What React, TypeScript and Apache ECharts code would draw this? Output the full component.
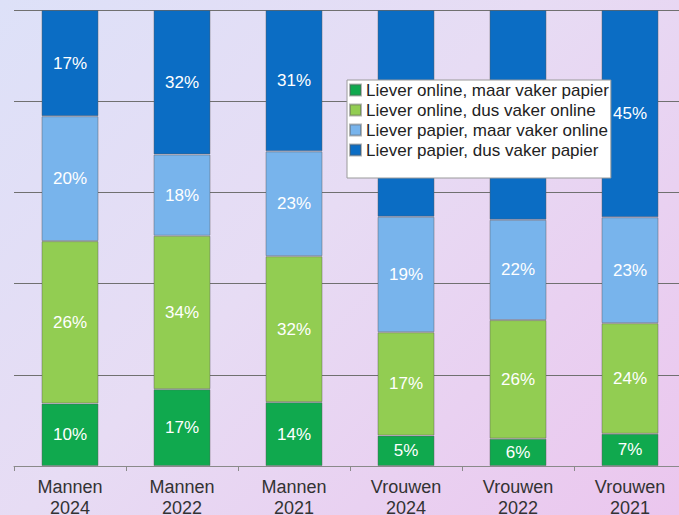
import React, { useEffect, useRef } from "react";
import * as echarts from "echarts";

const categories = [
  "Mannen\n2024",
  "Mannen\n2022",
  "Mannen\n2021",
  "Vrouwen\n2024",
  "Vrouwen\n2022",
  "Vrouwen\n2021",
];
const seriesNames = [
  "Liever online, maar vaker papier",
  "Liever online, dus vaker online",
  "Liever papier, maar vaker online",
  "Liever papier, dus vaker papier",
];
const onlineMaarPapier = [10, 17, 14, 5, 6, 7];
const onlineDusOnline = [26, 34, 32, 17, 26, 24];
const papierMaarOnline = [20, 18, 23, 19, 22, 23];
const papierDusPapier = [17, 32, 31, 34, 46, 45];
const seriesColors = ["#10a94e", "#92cd52", "#78b4ec", "#0b6dc4"];

export default function App() {
  const ref = useRef<HTMLDivElement>(null);
  useEffect(() => {
    if (!ref.current) return;
    const chart = echarts.init(ref.current, undefined, { renderer: "svg" });
    const raw = [onlineMaarPapier, onlineDusOnline, papierMaarOnline, papierDusPapier];
    const totals = categories.map((_, i) => raw.reduce((s, arr) => s + arr[i], 0));
    const font = 'Arial, "Liberation Sans", sans-serif';
    chart.setOption({
      animation: false,
      backgroundColor: "transparent",
      textStyle: { fontFamily: font },
      grid: { left: 14, top: 10, width: 672, height: 456, outerBoundsMode: "none", containLabel: false },
      legend: {
        left: 347,
        top: 80,
        orient: "vertical",
        backgroundColor: "#ffffff",
        borderColor: "#9a9a9a",
        borderWidth: 1,
        borderRadius: 0,
        padding: [0, 2, 18, 2],
        itemWidth: 11,
        itemHeight: 11,
        itemGap: 0,
        icon: "rect",
        selectedMode: false,
        textStyle: { fontSize: 17, color: "#222", fontFamily: font, lineHeight: 20 },
        data: seriesNames,
      },
      xAxis: {
        type: "category",
        data: categories,
        axisLine: { lineStyle: { color: "#8a8a8a", width: 1 } },
        axisTick: { show: true, length: 5, lineStyle: { color: "#8a8a8a" } },
        axisLabel: { fontSize: 18, color: "#333", lineHeight: 21, margin: 10, fontFamily: font },
      },
      yAxis: {
        type: "value",
        min: 0,
        max: 100,
        interval: 20,
        axisLabel: { show: false },
        axisLine: { show: false },
        axisTick: { show: false },
        splitLine: { lineStyle: { color: "#707070", width: 1 } },
      },
      series: raw.map((arr, si) => ({
        name: seriesNames[si],
        type: "bar",
        stack: "total",
        barWidth: 57,
        itemStyle: { color: seriesColors[si], borderColor: "rgba(90,90,90,0.45)", borderWidth: 1 },
        label: {
          show: true,
          position: "inside",
          color: "#ffffff",
          fontSize: 17,
          fontFamily: font,
          formatter: (p: any) => `${arr[p.dataIndex]}%`,
        },
        data: arr.map((v, i) => (v / totals[i]) * 100),
      })),
    });
    return () => chart.dispose();
  }, []);
  return (
    <div
      style={{
        position: "absolute",
        left: 0,
        top: 0,
        width: 679,
        height: 515,
        overflow: "hidden",
        background: "linear-gradient(135deg, #dde1f8 0%, #e7dcf4 45%, #ebc6ee 100%)",
      }}
    >
      <div ref={ref} style={{ width: 679, height: 515 }} />
    </div>
  );
}
